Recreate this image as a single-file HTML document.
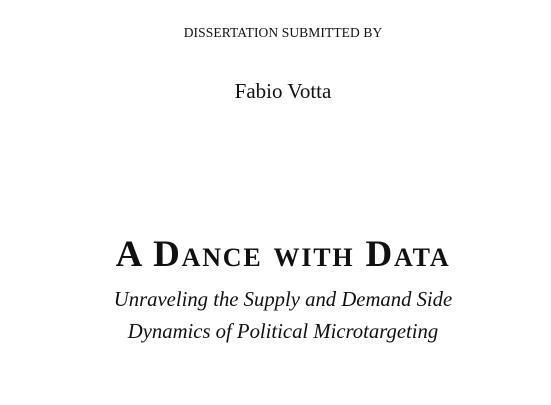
<!DOCTYPE html>
<html><head><meta charset="utf-8"><style>
html,body{margin:0;padding:0;background:#fff;}
body{width:551px;height:405px;position:relative;overflow:hidden;font-family:"Liberation Serif",serif;color:#111;}
.c{position:absolute;left:0;width:566px;text-align:center;white-space:nowrap;}
</style></head><body>
<div class="c" style="top:25px;font-size:13.5px;letter-spacing:0.1px;">DISSERTATION SUBMITTED BY</div>
<div class="c" style="top:79px;font-size:21px;">Fabio Votta</div>
<div class="c" style="top:233px;font-size:37px;font-weight:bold;font-variant:small-caps;letter-spacing:1.8px;">A Dance with Data</div>
<div class="c" style="top:289px;font-size:20.7px;font-style:italic;">Unraveling the Supply and Demand Side</div>
<div class="c" style="top:321px;font-size:20.7px;font-style:italic;">Dynamics of Political Microtargeting</div>
</body></html>
